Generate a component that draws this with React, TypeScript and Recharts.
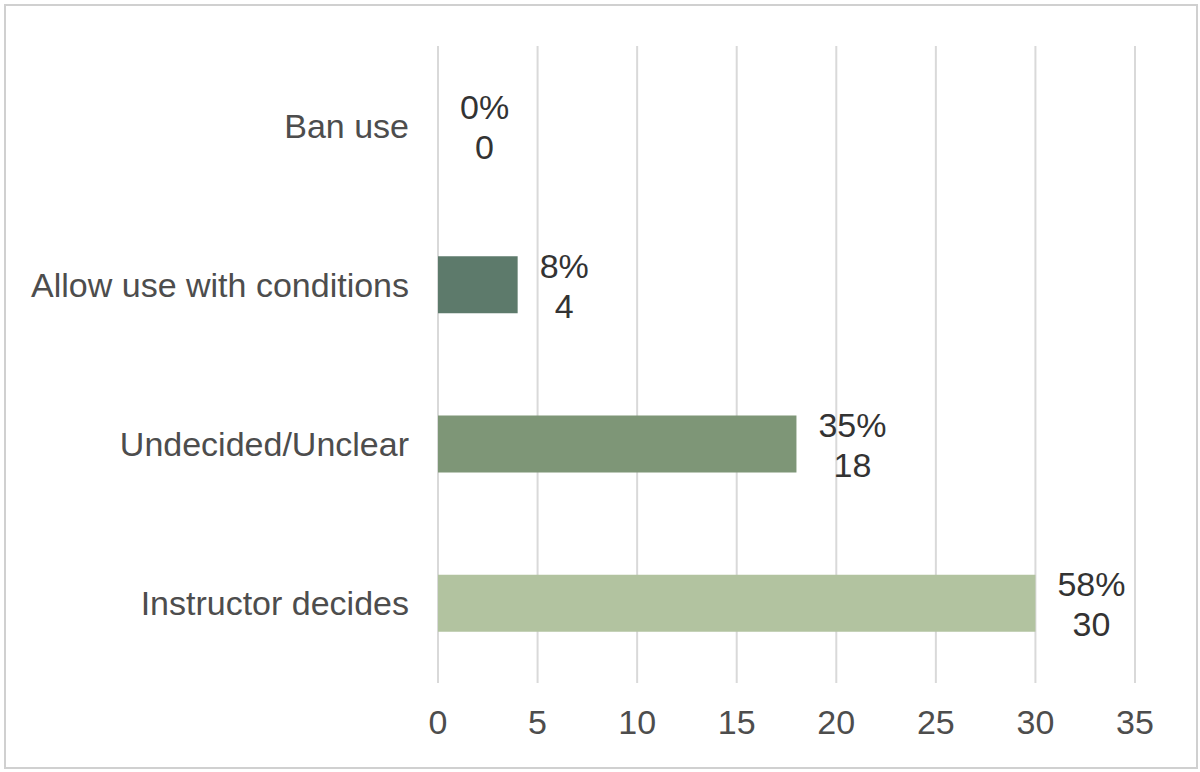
import { BarChart, Bar, XAxis, YAxis, CartesianGrid, Cell, LabelList } from 'recharts';

const categories = ['Ban use', 'Allow use with conditions', 'Undecided/Unclear', 'Instructor decides'];
const counts = [0, 4, 18, 30];
const percents = [0, 8, 35, 58];
const barColors = ['#5d7a6b', '#5d7a6b', '#7e9677', '#b2c3a0'];
const xTicks = [0, 5, 10, 15, 20, 25, 30, 35];

const data = categories.map((name, i) => ({
    name,
    count: counts[i],
    label: `${percents[i]}%|${counts[i]}`,
}));

const FONT = '"Liberation Sans", Arial, Helvetica, sans-serif';
const FS = 34;

// rough Arial width, good enough to center the two label lines
const textWidth = (s: string) =>
    s.split('').reduce((w, c) => w + (c === '%' ? 0.889 : 0.556), 0) * FS;

const ValueLabel = (props: any) => {
    const { x, y, width, height, value } = props;
    const [pct, cnt] = String(value).split('|');
    const barEnd = cnt === '0' ? x : x + width;
    const cx = barEnd + 22 + textWidth(pct) / 2;
    const cy = y + height / 2;
    return (
        <g>
            <text x={cx} y={cy - 7} textAnchor="middle" fill="#333333" fontSize={FS} fontFamily={FONT}>
                {pct}
            </text>
            <text x={cx} y={cy + 33} textAnchor="middle" fill="#333333" fontSize={FS} fontFamily={FONT}>
                {cnt}
            </text>
        </g>
    );
};

export default function App() {
    return (
        <div style={{ position: 'absolute', left: 0, top: 0, width: 1200, height: 772, background: '#fff' }}>
            {/* chart frame */}
            <div
                style={{
                    position: 'absolute',
                    left: 4,
                    top: 4,
                    width: 1190,
                    height: 761,
                    border: '2px solid #d0d0d0',
                }}
            />
            <BarChart
                width={1200}
                height={772}
                data={data}
                layout="vertical"
                margin={{ top: 46, right: 65, left: 0, bottom: 29 }}
                style={{ position: 'absolute', left: 0, top: 0 }}
            >
                <CartesianGrid horizontal={false} stroke="#d9d9d9" strokeWidth={2} />
                <XAxis
                    type="number"
                    domain={[0, 35]}
                    ticks={xTicks}
                    height={60}
                    axisLine={false}
                    tickLine={false}
                    tickMargin={21}
                    tick={{ fontSize: FS, fill: '#4d4d4d', fontFamily: FONT }}
                />
                <YAxis
                    type="category"
                    dataKey="name"
                    width={438}
                    axisLine={false}
                    tickLine={false}
                    tickMargin={23}
                    tick={{ fontSize: FS, fill: '#4d4d4d', fontFamily: FONT }}
                />
                <Bar dataKey="count" barSize={57} minPointSize={1} isAnimationActive={false}>
                    {data.map((d, i) => (
                        <Cell key={i} fill={d.count === 0 ? 'transparent' : barColors[i]} />
                    ))}
                    <LabelList dataKey="label" content={<ValueLabel />} />
                </Bar>
            </BarChart>
        </div>
    );
}
